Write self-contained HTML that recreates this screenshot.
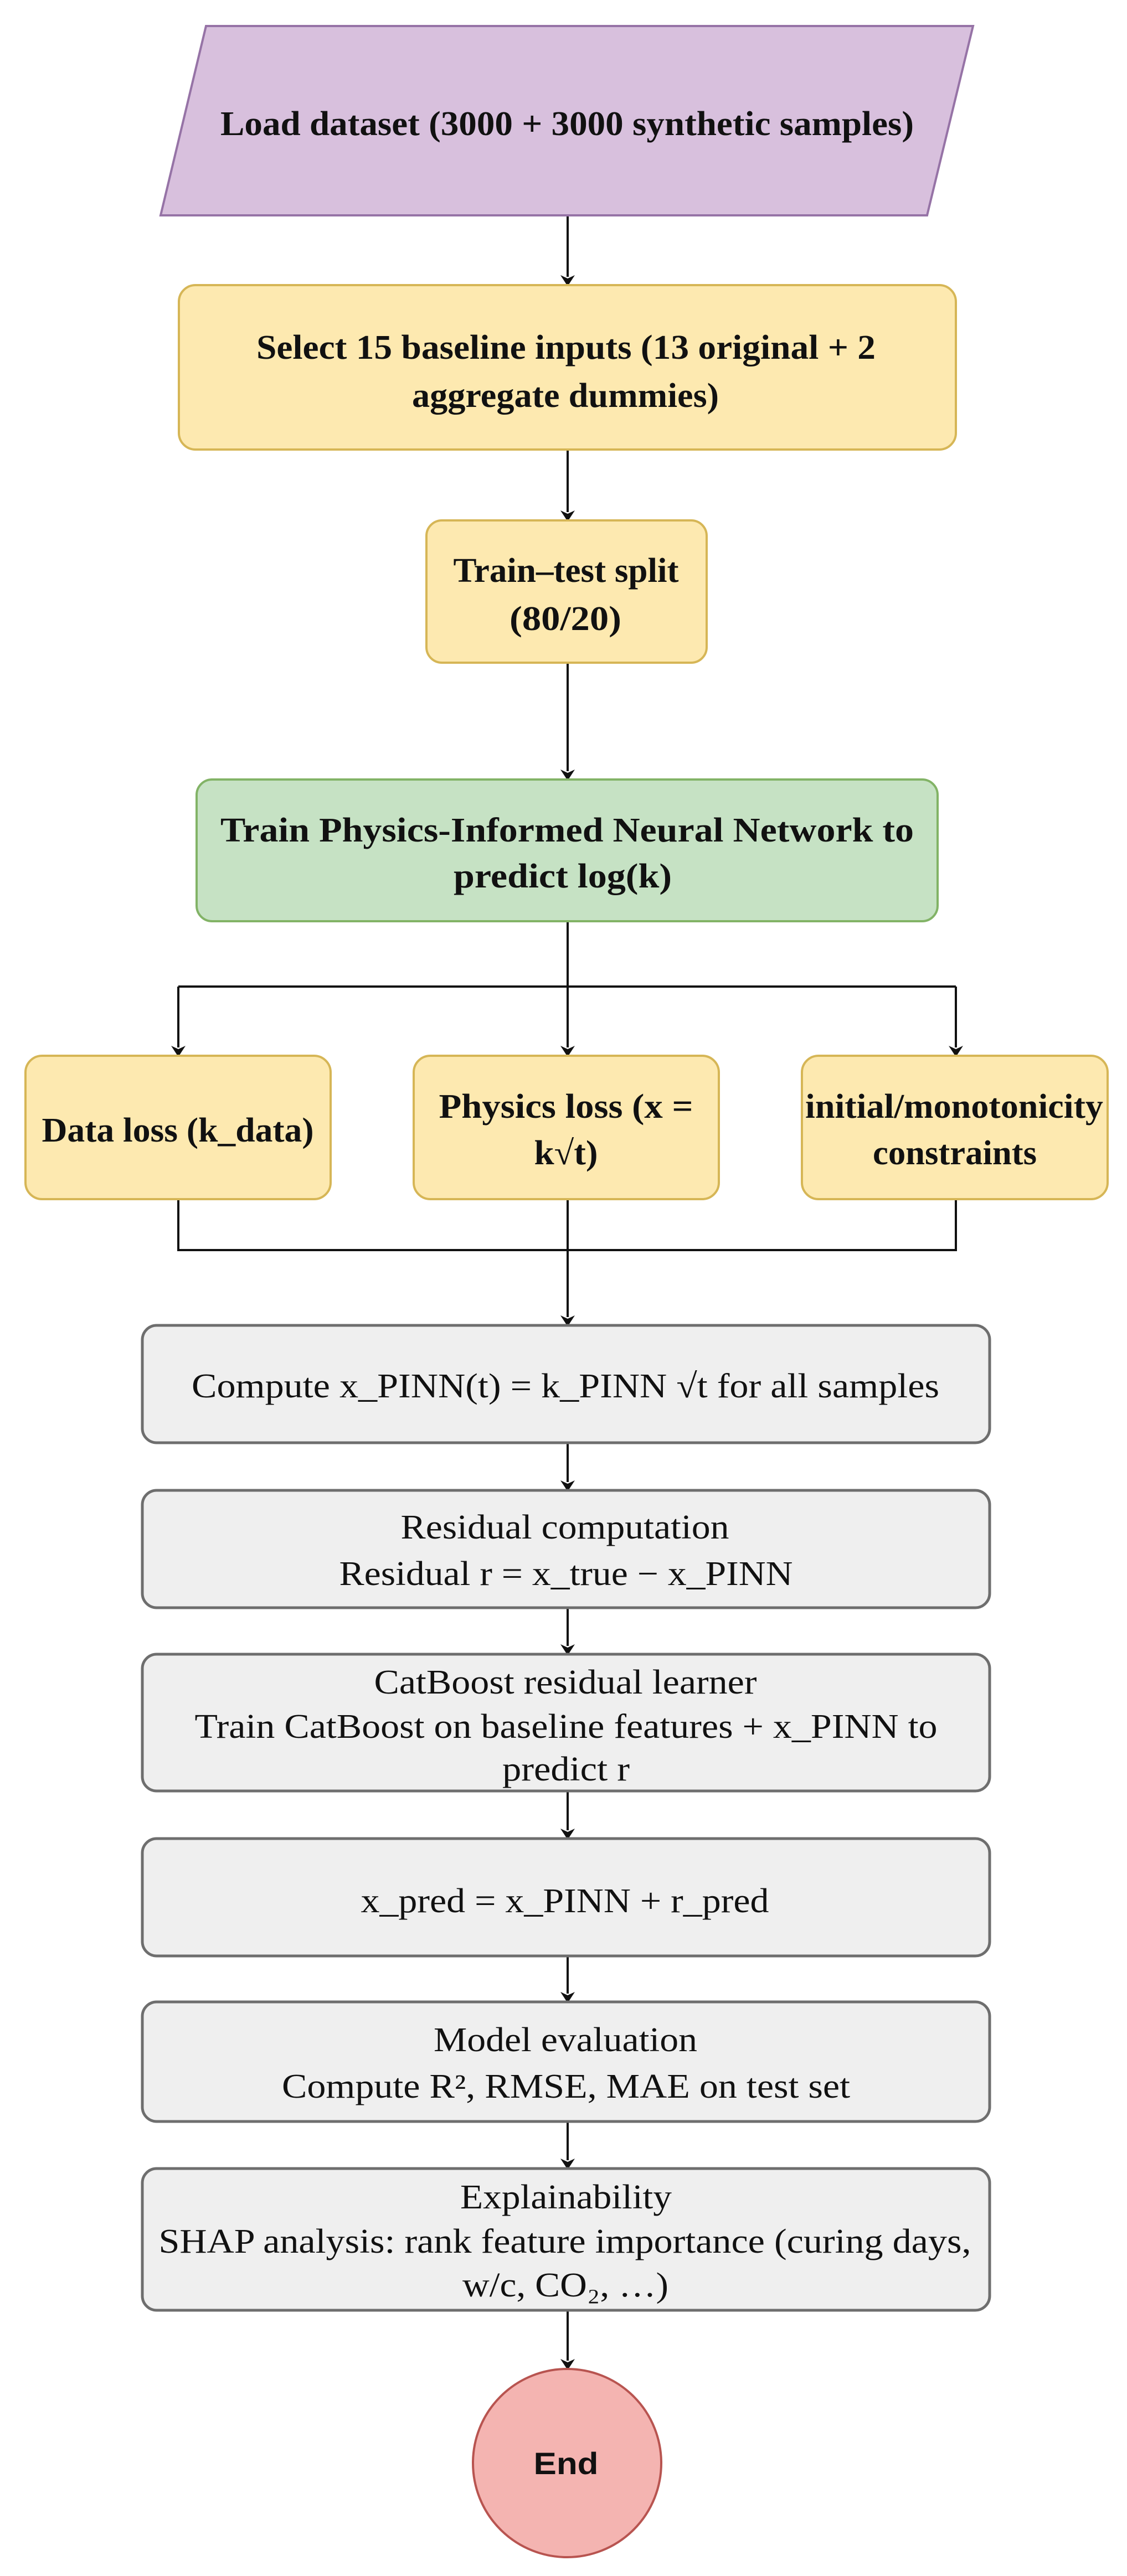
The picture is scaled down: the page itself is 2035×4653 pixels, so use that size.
<!DOCTYPE html>
<html><head><meta charset="utf-8"><style>html,body{margin:0;padding:0;background:#fff}svg{display:block}</style></head>
<body>
<svg width="2035" height="4653" viewBox="0 0 2035 4653" xmlns="http://www.w3.org/2000/svg">
<defs>
<marker id="a" markerWidth="8" markerHeight="10" refX="7.5" refY="5" orient="auto" markerUnits="userSpaceOnUse" viewBox="0 0 8 10">
</marker>
</defs>
<g fill="none" stroke="#111" stroke-width="4">
<path d="M1025 389V500M1025 812V925M1025 1197V1393M1025 1664V1782M322 1782H1726M322 1782V1892M1025 1782V1892M1726 1782V1892"/>
<path d="M322 2166V2258H1726V2166M1025 2166V2379"/>
<path d="M1025 2606V2677M1025 2904V2973M1025 3235V3306M1025 3533V3601M1025 3832V3902M1025 4173V4264"/>
</g>
<g fill="#111">
<path d="M1012 497L1025 517L1038 497L1025 503Z"/>
<path d="M1012 922L1025 942L1038 922L1025 928Z"/>
<path d="M1012 1390L1025 1410L1038 1390L1025 1396Z"/>
<path d="M309 1889L322 1909L335 1889L322 1895Z"/>
<path d="M1012 1889L1025 1909L1038 1889L1025 1895Z"/>
<path d="M1713 1889L1726 1909L1739 1889L1726 1895Z"/>
<path d="M1012 2376L1025 2396L1038 2376L1025 2382Z"/>
<path d="M1012 2674L1025 2694L1038 2674L1025 2680Z"/>
<path d="M1012 2970L1025 2990L1038 2970L1025 2976Z"/>
<path d="M1012 3303L1025 3323L1038 3303L1025 3309Z"/>
<path d="M1012 3598L1025 3618L1038 3598L1025 3604Z"/>
<path d="M1012 3899L1025 3919L1038 3899L1025 3905Z"/>
<path d="M1012 4261L1025 4281L1038 4261L1025 4267Z"/>
</g>
<polygon points="372,47 1757,47 1674,389 290,389" fill="#d8c0dd" stroke="#9673a6" stroke-width="4"/>
<g fill="#fde9b0" stroke="#d6b656" stroke-width="4">
<rect x="323" y="515" width="1403" height="297" rx="30"/>
<rect x="770" y="940" width="506" height="257" rx="28"/>
<rect x="46" y="1907" width="551" height="259" rx="30"/>
<rect x="747" y="1907" width="551" height="259" rx="30"/>
<rect x="1448" y="1907" width="552" height="259" rx="30"/>
</g>
<rect x="355" y="1408" width="1338" height="256" rx="28" fill="#c6e2c4" stroke="#82b366" stroke-width="4"/>
<g fill="#efefef" stroke="#6e6e6e" stroke-width="5">
<rect x="257" y="2394" width="1530" height="212" rx="26"/>
<rect x="257" y="2692" width="1530" height="212" rx="26"/>
<rect x="257" y="2988" width="1530" height="247" rx="26"/>
<rect x="257" y="3321" width="1530" height="212" rx="26"/>
<rect x="257" y="3616" width="1530" height="216" rx="26"/>
<rect x="257" y="3917" width="1530" height="256" rx="26"/>
</g>
<ellipse cx="1024" cy="4449" rx="170" ry="170" fill="#f4b4b1" stroke="#b85450" stroke-width="4"/>
<g font-family="Liberation Serif, serif" font-size="62" fill="#111" text-anchor="middle" lengthAdjust="spacingAndGlyphs">
<g font-weight="bold">
<text x="1024" y="244" textLength="1252" lengthAdjust="spacingAndGlyphs">Load dataset (3000 + 3000 synthetic samples)</text>
<text x="1022" y="648" textLength="1118" lengthAdjust="spacingAndGlyphs">Select 15 baseline inputs (13 original + 2</text>
<text x="1021" y="735" textLength="554" lengthAdjust="spacingAndGlyphs">aggregate dummies)</text>
<text x="1022" y="1051" textLength="407" lengthAdjust="spacingAndGlyphs">Train–test split</text>
<text x="1021" y="1138" textLength="202" lengthAdjust="spacingAndGlyphs">(80/20)</text>
<text x="1024" y="1520" textLength="1252" lengthAdjust="spacingAndGlyphs">Train Physics-Informed Neural Network to</text>
<text x="1016" y="1603" textLength="394" lengthAdjust="spacingAndGlyphs">predict log(k)</text>
<text x="321" y="2062" textLength="491" lengthAdjust="spacingAndGlyphs">Data loss (k_data)</text>
<text x="1022" y="2019" textLength="459" lengthAdjust="spacingAndGlyphs">Physics loss (x =</text>
<text x="1022" y="2103" textLength="115" lengthAdjust="spacingAndGlyphs">k√t)</text>
<text x="1723" y="2019" textLength="538" lengthAdjust="spacingAndGlyphs">initial/monotonicity</text>
<text x="1724" y="2103" textLength="296" lengthAdjust="spacingAndGlyphs">constraints</text>
</g>
<text x="1021" y="2524" textLength="1350" lengthAdjust="spacingAndGlyphs">Compute x_PINN(t) = k_PINN √t for all samples</text>
<text x="1020" y="2779" textLength="593" lengthAdjust="spacingAndGlyphs">Residual computation</text>
<text x="1022" y="2863" textLength="819" lengthAdjust="spacingAndGlyphs">Residual r = x_true − x_PINN</text>
<text x="1021" y="3059" textLength="691" lengthAdjust="spacingAndGlyphs">CatBoost residual learner</text>
<text x="1022" y="3139" textLength="1341" lengthAdjust="spacingAndGlyphs">Train CatBoost on baseline features + x_PINN to</text>
<text x="1022" y="3216" textLength="230" lengthAdjust="spacingAndGlyphs">predict r</text>
<text x="1020" y="3454" textLength="737" lengthAdjust="spacingAndGlyphs">x_pred = x_PINN + r_pred</text>
<text x="1021" y="3705" textLength="476" lengthAdjust="spacingAndGlyphs">Model evaluation</text>
<text x="1022" y="3789" textLength="1026" lengthAdjust="spacingAndGlyphs">Compute R², RMSE, MAE on test set</text>
<text x="1022" y="3989" textLength="382" lengthAdjust="spacingAndGlyphs">Explainability</text>
<text x="1020" y="4069" textLength="1467" lengthAdjust="spacingAndGlyphs">SHAP analysis: rank feature importance (curing days,</text>
<text x="1021" y="4148" textLength="372" lengthAdjust="spacingAndGlyphs">w/c, CO₂, …)</text>
</g>
<text x="1022" y="4469" font-family="Liberation Sans, sans-serif" font-weight="bold" font-size="56" fill="#111" text-anchor="middle" textLength="117" lengthAdjust="spacingAndGlyphs">End</text>
</svg>
</body></html>
